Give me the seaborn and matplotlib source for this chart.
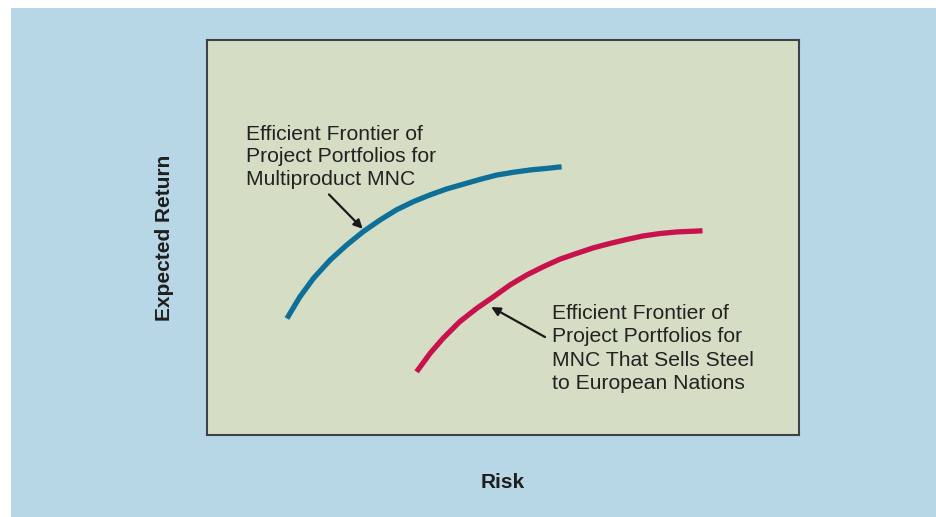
import matplotlib
matplotlib.use("Agg")
import matplotlib.pyplot as plt
import pandas as pd
import seaborn as sns
from matplotlib.patches import Rectangle

# Risk / expected return (axes scaled 0-100)
multi_risk = [13.5, 15.7, 18.0, 20.8, 23.6, 26.4, 29.2, 32.0, 34.9, 37.7,
              40.5, 43.3, 46.1, 48.9, 51.7, 54.6, 57.4, 59.9]
multi_return = [29.5, 35.0, 39.7, 44.3, 48.1, 51.5, 54.4, 57.0, 59.1, 60.8,
                62.3, 63.5, 64.7, 65.8, 66.5, 67.1, 67.5, 67.9]

steel_risk = [35.4, 37.7, 39.9, 42.7, 45.6, 48.4, 51.2, 54.0, 56.8, 59.6,
              62.5, 65.3, 68.1, 70.9, 73.7, 76.5, 79.3, 83.7]
steel_return = [16.0, 20.7, 24.5, 28.7, 32.1, 35.0, 38.0, 40.5, 42.6, 44.5,
                46.0, 47.4, 48.5, 49.5, 50.4, 51.0, 51.4, 51.7]

multi_label = "Efficient Frontier of\nProject Portfolios for\nMultiproduct MNC"
steel_label = "Efficient Frontier of\nProject Portfolios for\nMNC That Sells Steel\nto European Nations"

BG_BLUE = "#b7d7e7"
PANEL = "#d5dec5"
LINE_BLUE = "#0e6f98"
LINE_RED = "#c8124b"

df = pd.concat(
    [
        pd.DataFrame({"risk": multi_risk, "ret": multi_return, "mnc": "multi"}),
        pd.DataFrame({"risk": steel_risk, "ret": steel_return, "mnc": "steel"}),
    ],
    ignore_index=True,
)

sns.set_theme(style="white")
plt.rcParams["font.family"] = ["Liberation Sans", "DejaVu Sans"]

fig = plt.figure(figsize=(9.36, 5.17), dpi=100, facecolor="white")
# blue backdrop, leaving the thin white margin at top and left
fig.patches.append(
    Rectangle((11 / 936, 0), 1 - 11 / 936, 1 - 8 / 517, transform=fig.transFigure,
              facecolor=BG_BLUE, edgecolor="none", zorder=-10)
)
ax = fig.add_axes([207 / 936, 82 / 517, 592 / 936, 395 / 517])
ax.set_zorder(1)
ax.set_facecolor(PANEL)

sns.lineplot(
    data=df, x="risk", y="ret", hue="mnc",
    palette={"multi": LINE_BLUE, "steel": LINE_RED},
    linewidth=3.8, legend=False, sort=False, ax=ax,
    solid_capstyle="butt", solid_joinstyle="round",
)

ax.set_xlim(0, 100)
ax.set_ylim(0, 100)
ax.set_xticks([])
ax.set_yticks([])
for sp in ax.spines.values():
    sp.set_visible(True)
    sp.set_color("#3c4246")
    sp.set_linewidth(1.5)

ax.set_xlabel("Risk", fontsize=15, fontweight="bold", color="#1e1e1e", labelpad=27)
ax.set_ylabel("Expected Return", fontsize=15, fontweight="bold", color="#1e1e1e", labelpad=24)

ax.text(6.6, 78.6, multi_label, fontsize=15.2, color="#222222", va="top", ha="left",
        linespacing=1.24)
ax.text(58.3, 33.2, steel_label, fontsize=15.2, color="#222222", va="top", ha="left",
        linespacing=1.3)

arrow = dict(arrowstyle="-|>", color="#1a1a1a", lw=1.6, mutation_scale=13, shrinkA=0, shrinkB=0)
ax.annotate("", xy=(26.3, 52.2), xytext=(20.6, 60.9), arrowprops=arrow)
ax.annotate("", xy=(48.0, 32.4), xytext=(57.1, 24.8), arrowprops=arrow)

fig.savefig("out.png", dpi=100, facecolor=fig.get_facecolor())
